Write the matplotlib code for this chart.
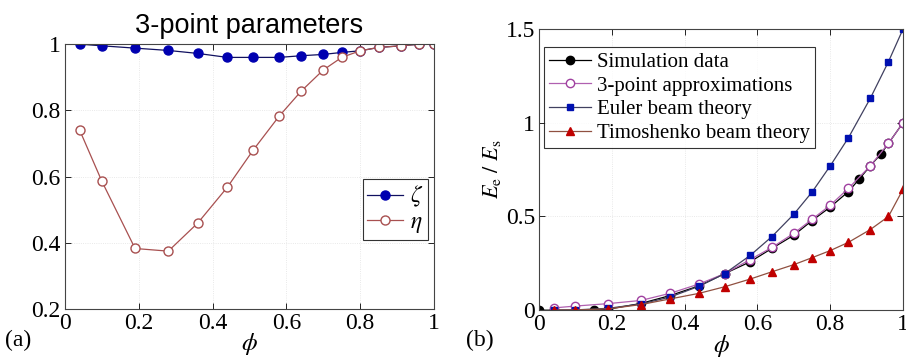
import numpy as np
import matplotlib
matplotlib.use("Agg")
import matplotlib.pyplot as plt

plt.rcParams["font.family"] = ["Liberation Serif", "DejaVu Serif"]
plt.rcParams["mathtext.fontset"] = "stix"

# panel (a): 3-point parameters
phi_a = [0.04, 0.10, 0.19, 0.28, 0.36, 0.44, 0.51, 0.58, 0.64, 0.70, 0.75, 0.80, 0.85, 0.91, 0.96, 1.00]
zeta = [1.0, 0.995, 0.988, 0.981, 0.972, 0.960, 0.960, 0.960, 0.965, 0.969, 0.975, 0.980, 0.990, 0.995, 1.0, 1.0]
eta = [0.740, 0.586, 0.383, 0.375, 0.460, 0.568, 0.680, 0.782, 0.858, 0.922, 0.960, 0.980, 0.990, 0.995, 1.0, 1.0]

# panel (b): effective modulus
phi_sim = [0.0, 0.04, 0.10, 0.15, 0.19, 0.28, 0.36, 0.44, 0.51, 0.58, 0.64, 0.70, 0.75, 0.80, 0.85, 0.88, 0.91, 0.94, 0.96, 1.00]
sim = [0.0, 0.0, 0.0, 0.002, 0.005, 0.036, 0.078, 0.130, 0.195, 0.258, 0.330, 0.400, 0.478, 0.550, 0.633, 0.700, 0.770, 0.835, 0.890, 1.0]
phi_b = [0.04, 0.10, 0.19, 0.28, 0.36, 0.44, 0.51, 0.58, 0.64, 0.70, 0.75, 0.80, 0.85, 0.91, 0.96, 1.00]
three_pt = [0.012, 0.022, 0.035, 0.052, 0.090, 0.140, 0.195, 0.270, 0.335, 0.410, 0.485, 0.560, 0.650, 0.770, 0.890, 1.0]
euler = [0.0001, 0.0015, 0.010, 0.033, 0.070, 0.128, 0.195, 0.292, 0.393, 0.512, 0.630, 0.770, 0.920, 1.130, 1.326, 1.5]
timo = [0.0, 0.001, 0.007, 0.030, 0.060, 0.090, 0.125, 0.166, 0.205, 0.243, 0.280, 0.318, 0.362, 0.430, 0.500, 0.645]

fig = plt.figure(figsize=(9.06, 3.59), dpi=100)
ax1 = fig.add_axes([0.0717, 0.139, 0.4073, 0.738])
ax2 = fig.add_axes([0.595, 0.136, 0.4017, 0.783])


def matlab_style(ax):
    ax.tick_params(direction="in", top=True, right=True, labelsize=17, length=4, width=0.6, pad=3)
    for s in ax.spines.values():
        s.set_linewidth(0.8)
        s.set_color("#444444")
    ax.grid(True, color="#e2e2e2", linestyle=":", linewidth=0.6)


# (a)
ax1.plot(phi_a, zeta, "-o", color="#101060", mfc="#0000b0", mec="#0000b0", ms=6.5, lw=0.9, label=r"$\zeta$")
ax1.plot(phi_a, eta, "-o", color="#a85050", mfc="white", mec="#a85050", ms=6.5, lw=0.9, label=r"$\eta$")
ax1.set_xlim(0, 1)
ax1.set_ylim(0.2, 1)
ax1.set_xticks([0, 0.2, 0.4, 0.6, 0.8, 1])
ax1.set_xticklabels(["0", "0.2", "0.4", "0.6", "0.8", "1"])
ax1.set_yticks([0.2, 0.4, 0.6, 0.8, 1])
ax1.set_yticklabels(["0.2", "0.4", "0.6", "0.8", "1"])
matlab_style(ax1)
ax1.set_xlabel(r"$\phi$", fontsize=18, labelpad=-2)
ax1.set_title("3-point parameters", fontsize=19.5, family="Liberation Sans", pad=8)
leg1 = ax1.legend(loc="center right", bbox_to_anchor=(0.983, 0.375), fontsize=17, handlelength=1.5,
                  fancybox=False, edgecolor="black", borderpad=0.2, labelspacing=0.1, handletextpad=0.3,
                  borderaxespad=0)
leg1.get_frame().set_linewidth(0.8)
fig.text(0.006, 0.053, "(a)", fontsize=17, va="center")

# (b)
ax2.plot(phi_sim, sim, "-o", color="black", ms=6, lw=0.9, label="Simulation data")
ax2.plot(phi_b, three_pt, "-o", color="#b060b0", mfc="white", mec="#a040a0", ms=6, lw=0.9, label="3-point approximations")
ax2.plot(phi_b, euler, "-s", color="#404060", mfc="#0010b0", mec="#0010b0", ms=5, lw=0.9, label="Euler beam theory")
ax2.plot(phi_b, timo, "-^", color="#905040", mfc="#c00000", mec="#c00000", ms=6, lw=0.9, label="Timoshenko beam theory")
ax2.set_xlim(0, 1)
ax2.set_ylim(0, 1.5)
ax2.set_xticks([0, 0.2, 0.4, 0.6, 0.8, 1])
ax2.set_xticklabels(["0", "0.2", "0.4", "0.6", "0.8", "1"])
ax2.set_yticks([0, 0.5, 1, 1.5])
ax2.set_yticklabels(["0", "0.5", "1", "1.5"])
matlab_style(ax2)
ax2.set_xlabel(r"$\phi$", fontsize=18, labelpad=-2)
ax2.set_ylabel(r"$E_{\mathrm{e}}\ /\ E_{\mathrm{s}}$", fontsize=16, labelpad=2)
leg2 = ax2.legend(loc="upper left", bbox_to_anchor=(0.014, 0.936), fontsize=15, handlelength=2.0,
                  fancybox=False, edgecolor="black", borderpad=0.25, labelspacing=0.2, handletextpad=0.3,
                  borderaxespad=0)
leg2.get_frame().set_linewidth(0.8)
fig.text(0.514, 0.053, "(b)", fontsize=17, va="center")

fig.savefig("out.png", dpi=100)
